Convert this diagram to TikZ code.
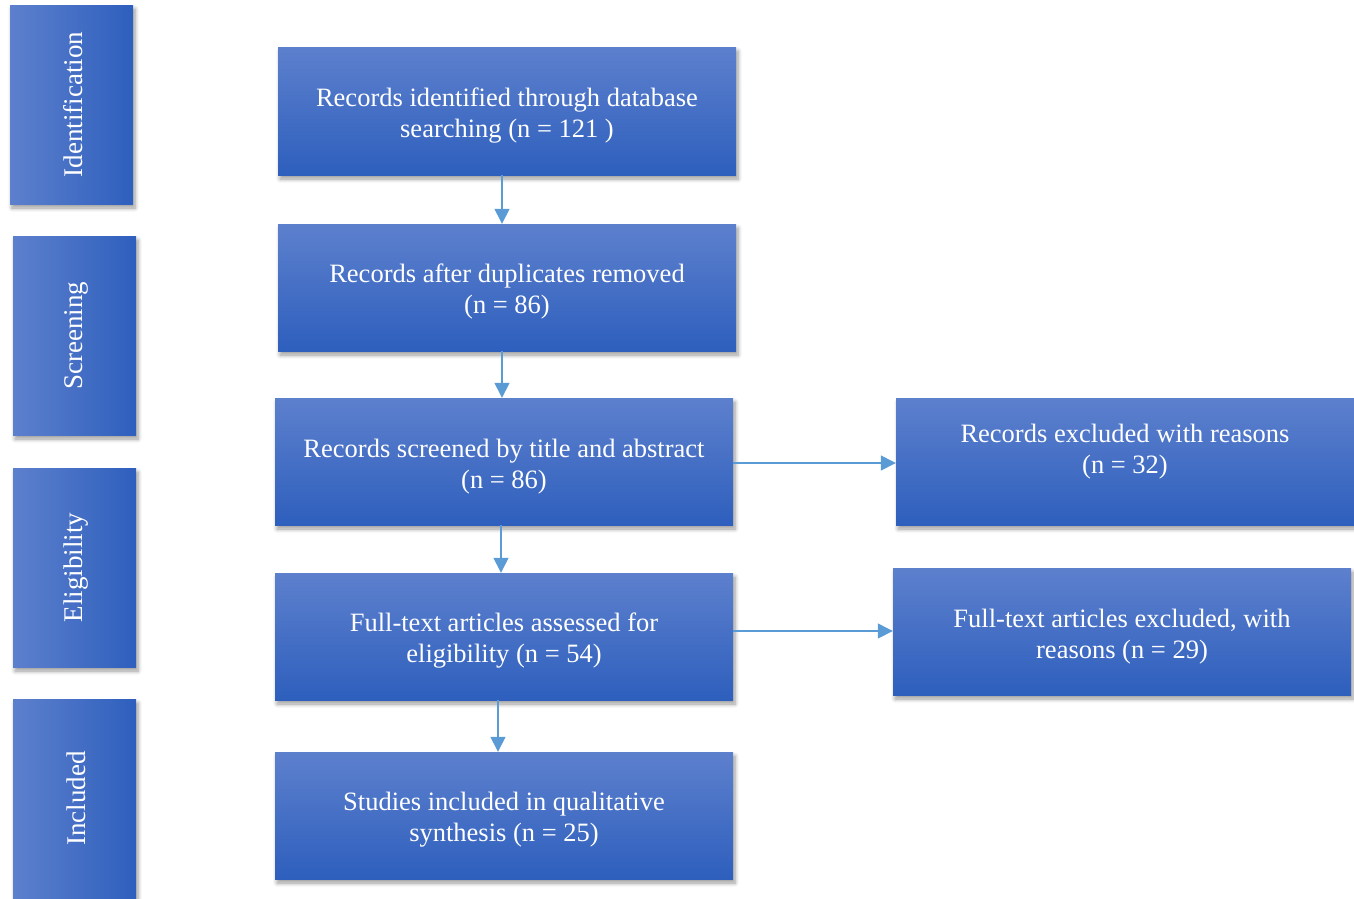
\documentclass[tikz,border=0pt]{standalone}
\usepackage{fontspec}
\setmainfont{Liberation Serif}
\usetikzlibrary{arrows.meta,shadows.blur}
\definecolor{boxtop}{HTML}{5D80CD}
\definecolor{boxbot}{HTML}{2E5FBD}
\definecolor{arrowc}{HTML}{5B9BD5}
\tikzset{
  mainbox/.style={shade, top color=boxtop, bottom color=boxbot,
    blur shadow={shadow xshift=2pt, shadow yshift=-4pt, shadow blur steps=6, shadow blur radius=4pt, shadow opacity=40},
    text=white, align=center, inner sep=0pt,
    font=\fontsize{26.5}{31}\selectfont,
    minimum width=458pt, minimum height=127pt},
  sidebox/.style={shade, left color=boxtop, right color=boxbot,
    blur shadow={shadow xshift=2pt, shadow yshift=-4pt, shadow blur steps=6, shadow blur radius=4pt, shadow opacity=40},
    inner sep=0pt, minimum width=123pt, minimum height=199pt},
  sidelabel/.style={text=white, rotate=90, font=\fontsize{27}{31}\selectfont, inner sep=0pt},
  plaintext/.style={text=white, align=center, inner sep=0pt, font=\fontsize{26.5}{31}\selectfont},
  flow/.style={draw=arrowc, line width=1.4pt, -{Triangle[length=15pt,width=15pt]}}
}
\begin{document}
\begin{tikzpicture}[x=1pt,y=-1pt]
\useasboundingbox (0,0) rectangle (1354,898);
% side bars
\node[sidebox] (s1) at (71.5,104.5) {};
\node[sidelabel] (s1t) at ([xshift=1.5pt]s1.center) {Identification};
\node[sidebox] (s2) at (74.5,335.5) {};
\node[sidelabel] (s2t) at ([xshift=1.5pt]s2.center) {Screening};
\node[sidebox] (s3) at (74.5,567.5) {};
\node[sidelabel] (s3t) at ([xshift=1.5pt]s3.center) {Eligibility};
\node[sidebox] (s4) at (74.5,798.5) {};
\node[sidelabel] (s4t) at ([xshift=1.5pt]s4.center) {Included};
% main boxes
\node[mainbox, minimum height=128pt] (b1) at (507,111) {};
\node[plaintext] (b1t) at (507,116) {Records identified through database\\searching (n = 121 )};
\node[mainbox] (b2) at (507,287.5) {};
\node[plaintext] (b2t) at (507,291) {Records after duplicates removed\\(n = 86)};
\node[mainbox] (b3) at (504,461.5) {};
\node[plaintext] (b3t) at (504,467) {Records screened by title and abstract\\(n = 86)};
\node[mainbox] (b4) at (504,636.5) {};
\node[plaintext] (b4t) at (504,641) {Full-text articles assessed for\\eligibility (n = 54)};
\node[mainbox] (b5) at (504,815.5) {};
\node[plaintext] (b5t) at (504,820) {Studies included in qualitative\\synthesis (n = 25)};
\node[mainbox] (r1) at (1125,461.5) {};
\node[plaintext] (r1t) at (1125,452) {Records excluded with reasons\\(n = 32)};
\node[mainbox] (r2) at (1122,631.5) {};
\node[plaintext] (r2t) at (1122,637) {Full-text articles excluded, with\\reasons (n = 29)};
% connectors
\draw[flow] ([xshift=-5pt]b1.south) -- ([xshift=-5pt]b2.north);
\draw[flow] ([xshift=-5pt]b2.south) -- ([xshift=-2pt]b3.north);
\draw[flow] ([xshift=-3pt]b3.south) -- ([xshift=-3pt]b4.north);
\draw[flow] ([xshift=-6pt]b4.south) -- ([xshift=-6pt]b5.north);
\draw[flow] ([yshift=-1.5pt]b3.east) -- ([yshift=-1.5pt]b3.east -| r1.west);
\draw[flow] ([yshift=5.5pt]b4.east) -- ([yshift=5.5pt]b4.east -| r2.west);
\end{tikzpicture}
\end{document}
